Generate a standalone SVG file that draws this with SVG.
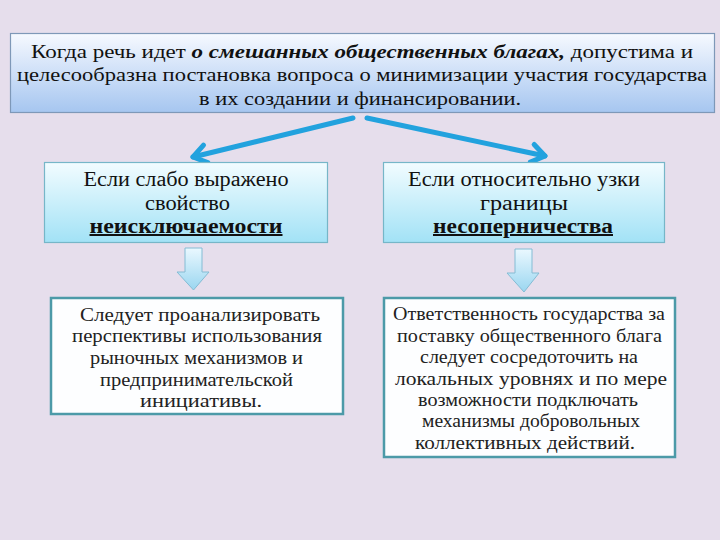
<svg xmlns="http://www.w3.org/2000/svg" width="720" height="540" viewBox="0 0 720 540">
<defs>
<linearGradient id="gTop" x1="0" y1="0" x2="0" y2="1">
<stop offset="0" stop-color="#f6f9ff"/>
<stop offset="1" stop-color="#a6c6f0"/>
</linearGradient>
<linearGradient id="gMid" x1="0" y1="0" x2="0" y2="1">
<stop offset="0" stop-color="#f2fcff"/>
<stop offset="1" stop-color="#a2e2f6"/>
</linearGradient>
<linearGradient id="gArr" x1="0" y1="0" x2="0" y2="1">
<stop offset="0" stop-color="#eaf8ff"/>
<stop offset="1" stop-color="#9ad6f0"/>
</linearGradient>
<marker id="chev" markerUnits="userSpaceOnUse" viewBox="-16 -16 32 32" markerWidth="32" markerHeight="32" refX="0" refY="0" orient="auto" overflow="visible">
<path d="M-13,-9 L0,0 L-13,9" fill="none" stroke="#22a2de" stroke-width="5" stroke-linecap="round" stroke-linejoin="round"/>
</marker>
</defs>
<style>
.t{font-family:"Liberation Serif","DejaVu Serif",serif;fill:#111;text-anchor:middle}
.top{font-size:19px}
.mid{font-size:20px}
.low{font-size:18px;fill:#222}
.b{font-weight:bold;text-decoration:underline}
.bi{font-weight:bold;font-style:italic}
.conn{fill:none;stroke:#22a2de;stroke-width:5;stroke-linecap:round}
.down{fill:url(#gArr);stroke:#84bcd4;stroke-width:1}
.boxTop{fill:url(#gTop);stroke:#7e98b8;stroke-width:1.2}
.boxMid{fill:url(#gMid);stroke:#76b6c8;stroke-width:1.2}
.boxLow{fill:#fdfeff;stroke:#4c9aa8;stroke-width:2.5}
</style>
<rect x="0" y="0" width="720" height="540" fill="#e6deec"/>

<g id="top">
<rect class="boxTop" x="10.5" y="33.5" width="704" height="79"/>
<text class="t top" x="362" y="57.5" textLength="662" lengthAdjust="spacingAndGlyphs">Когда речь идет <tspan class="bi">о смешанных общественных благах,</tspan> допустима и</text>
<text class="t top" x="362" y="81" textLength="690" lengthAdjust="spacingAndGlyphs">целесообразна постановка вопроса о минимизации участия государства</text>
<text class="t top" x="360" y="104.5" textLength="322" lengthAdjust="spacingAndGlyphs">в их создании и финансировании.</text>
</g>

<g id="connectors">
<path class="conn" d="M353,118 L193,157" marker-end="url(#chev)"/>
<path class="conn" d="M367,118 L545,156" marker-end="url(#chev)"/>
<path class="down" d="M185,248 H202 V272 H209 L193.5,290 L177,272 H185 Z"/>
<path class="down" d="M515,249 H532 V273 H539 L524,292 L507,273 H515 Z"/>
</g>

<g id="left-cond">
<rect class="boxMid" x="44.5" y="162.5" width="283" height="80"/>
<text class="t mid" x="186" y="186" textLength="205" lengthAdjust="spacingAndGlyphs">Если слабо выражено</text>
<text class="t mid" x="187.5" y="210" textLength="85" lengthAdjust="spacingAndGlyphs">свойство</text>
<text class="t mid b" x="186" y="233" textLength="193" lengthAdjust="spacingAndGlyphs">неисключаемости</text>
</g>

<g id="right-cond">
<rect class="boxMid" x="383.5" y="162.5" width="281" height="80"/>
<text class="t mid" x="524" y="186" textLength="232" lengthAdjust="spacingAndGlyphs">Если относительно узки</text>
<text class="t mid" x="524" y="210" textLength="88" lengthAdjust="spacingAndGlyphs">границы</text>
<text class="t mid b" x="523" y="233" textLength="180" lengthAdjust="spacingAndGlyphs">несоперничества</text>
</g>

<g id="left-res">
<rect class="boxLow" x="51" y="298" width="292" height="116"/>
<text class="t low" x="200" y="320.5" textLength="240" lengthAdjust="spacingAndGlyphs">Следует проанализировать</text>
<text class="t low" x="197" y="342" textLength="250" lengthAdjust="spacingAndGlyphs">перспективы использования</text>
<text class="t low" x="196.5" y="364" textLength="213" lengthAdjust="spacingAndGlyphs">рыночных механизмов и</text>
<text class="t low" x="196.5" y="386" textLength="193" lengthAdjust="spacingAndGlyphs">предпринимательской</text>
<text class="t low" x="201" y="407" textLength="122" lengthAdjust="spacingAndGlyphs">инициативы.</text>
</g>

<g id="right-res">
<rect class="boxLow" x="384" y="298" width="291" height="159"/>
<text class="t low" x="529" y="320" textLength="272" lengthAdjust="spacingAndGlyphs">Ответственность государства за</text>
<text class="t low" x="529.5" y="341.5" textLength="265" lengthAdjust="spacingAndGlyphs">поставку общественного блага</text>
<text class="t low" x="529" y="363" textLength="218" lengthAdjust="spacingAndGlyphs">следует сосредоточить на</text>
<text class="t low" x="531" y="384.5" textLength="272" lengthAdjust="spacingAndGlyphs">локальных уровнях и по мере</text>
<text class="t low" x="528" y="406" textLength="220" lengthAdjust="spacingAndGlyphs">возможности подключать</text>
<text class="t low" x="531" y="427" textLength="218" lengthAdjust="spacingAndGlyphs">механизмы добровольных</text>
<text class="t low" x="525" y="448.5" textLength="220" lengthAdjust="spacingAndGlyphs">коллективных действий.</text>
</g>
</svg>
